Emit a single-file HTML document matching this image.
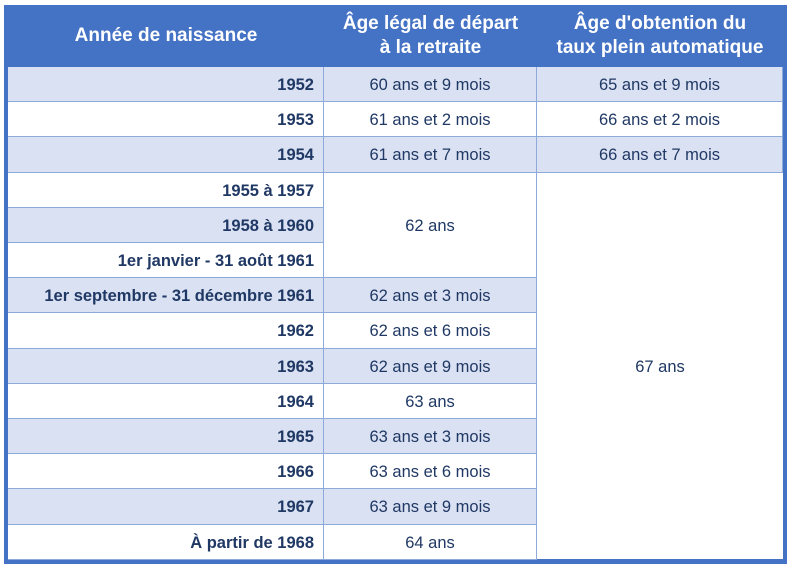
<!DOCTYPE html>
<html><head><meta charset="utf-8"><style>
body{margin:0;width:795px;height:570px;background:#fff;font-family:"Liberation Sans",sans-serif;position:relative;overflow:hidden}
.box{position:absolute;left:4px;top:5px;width:783px;height:559px;background:#4472c4}
.c{position:absolute;box-sizing:border-box;color:#203864;font-size:16.5px;display:flex;align-items:center;justify-content:center;padding-top:3px}
.h{color:#fff;font-weight:bold;font-size:19px;text-align:center;line-height:24px;padding-top:0}
.r{justify-content:flex-end;padding-right:9px;font-weight:bold}
.f{background:#d9e1f2}.w{background:#fff}
.b{border-bottom:1px solid #8eaadb;border-right:1px solid #8eaadb}
</style></head><body>
<div class="box"></div>
<div class="c h" style="left:8px;top:5px;width:316px;height:62px">Année de naissance</div>
<div class="c h" style="left:324px;top:5px;width:213px;height:62px">Âge légal de départ<br>à la retraite</div>
<div class="c h" style="left:537px;top:5px;width:246px;height:62px">Âge d'obtention du<br>taux plein automatique</div>
<div id="t"></div>
<script>
const rows=[["1952","60 ans et 9 mois","65 ans et 9 mois"],["1953","61 ans et 2 mois","66 ans et 2 mois"],["1954","61 ans et 7 mois","66 ans et 7 mois"],["1955 à 1957"],["1958 à 1960"],["1er janvier - 31 août 1961"],["1er septembre - 31 décembre 1961","62 ans et 3 mois"],["1962","62 ans et 6 mois"],["1963","62 ans et 9 mois"],["1964","63 ans"],["1965","63 ans et 3 mois"],["1966","63 ans et 6 mois"],["1967","63 ans et 9 mois"],["À partir de 1968","64 ans"]];
const y0=67,h=35.2;let s="";
rows.forEach((r,i)=>{const y=y0+i*h,cl=i%2==0?"f":"w";
s+=`<div class="c r b ${cl}" style="left:8px;top:${y}px;width:316px;height:${h}px">${r[0]}</div>`;
if(r[1]) s+=`<div class="c b ${cl}" style="left:324px;top:${y}px;width:213px;height:${h}px">${r[1]}</div>`;
if(r[2]) s+=`<div class="c b ${cl}" style="left:537px;top:${y}px;width:246px;height:${h}px">${r[2]}</div>`;});
s+=`<div class="c b w" style="left:324px;top:${y0+3*h}px;width:213px;height:${3*h}px">62 ans</div>`;
s+=`<div class="c w" style="left:537px;top:${y0+3*h}px;width:246px;height:${11*h-1}px">67 ans</div>`;
document.getElementById("t").innerHTML=s;
</script>
</body></html>
